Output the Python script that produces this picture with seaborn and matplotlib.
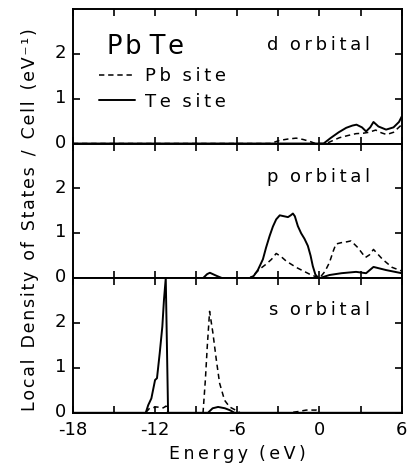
import matplotlib
matplotlib.use("Agg")
import matplotlib.pyplot as plt
import matplotlib.transforms as mtransforms
import seaborn as sns

# energies (eV) and local DOS
# d orbital
d_pb_e = [-18, -3.6, -2.9, -2.3, -1.7, -1.2, -0.73, -0.3, 0.5, 1.0, 1.46, 2.1, 2.67, 3.2, 3.6, 4.1, 4.5, 4.9, 5.4, 6.0]
d_pb_v = [0, 0, 0.07, 0.10, 0.12, 0.09, 0.05, 0, 0, 0.07, 0.13, 0.18, 0.22, 0.23, 0.25, 0.30, 0.24, 0.20, 0.25, 0.42]
d_te_e = [-18, 0.3, 0.8, 1.4, 1.95, 2.4, 2.7, 3.1, 3.4, 3.7, 3.94, 4.3, 4.86, 5.4, 5.8, 6.0]
d_te_v = [0, 0, 0.12, 0.25, 0.35, 0.40, 0.42, 0.36, 0.27, 0.36, 0.48, 0.38, 0.31, 0.36, 0.48, 0.60]

# p orbital
p_pb_e = [-18, -5.1, -4.7, -4.37, -3.9, -3.5, -3.16, -2.8, -2.43, -1.7, -0.73, 0, 0.4, 0.73, 1.0, 1.2, 1.58, 2.0, 2.3, 2.8,
          3.35, 3.65, 3.94, 4.6, 5.3, 6.0]
p_pb_v = [0, 0, 0.10, 0.20, 0.31, 0.42, 0.55, 0.48, 0.38, 0.24, 0.09, 0, 0.15, 0.35, 0.60, 0.76, 0.79, 0.81, 0.83, 0.68,
          0.46, 0.52, 0.64, 0.42, 0.24, 0.16]
p_te_e = [-18, -8.5, -8.2, -8.0, -7.5, -7.1, -5.1, -4.8, -4.5, -4.13, -3.9, -3.64, -3.4, -3.16, -2.9, -2.6, -2.3, -2.1,
          -1.94, -1.8, -1.58, -1.34, -1.1, -0.85, -0.65, -0.49, -0.3, -0.1, 0,
          0.73, 1.6, 2.67, 3.4, 3.94, 4.86, 6.0]
p_te_v = [0, 0, 0.09, 0.12, 0.05, 0, 0, 0.05, 0.18, 0.42, 0.68, 0.94, 1.15, 1.31, 1.40, 1.38, 1.36, 1.40,
          1.44, 1.38, 1.16, 1.00, 0.88, 0.72, 0.50, 0.27, 0.08, 0.01, 0,
          0.07, 0.11, 0.14, 0.11, 0.25, 0.18, 0.11]

# s orbital
s_pb_e = [-18, -12.7, -12.4, -11.9, -11.4, -11.2, -11.05, -8.5, -8.33, -8.19, -8.02, -7.78, -7.53, -7.29, -6.93, -6.56, -6.07, -5.8,
          -2.2, -1.5, -0.97, -0.24, 0, 6.0]
s_pb_v = [0, 0, 0.10, 0.13, 0.11, 0.15, 0, 0, 0.73, 1.48, 2.26, 1.78, 1.18, 0.66, 0.28, 0.13, 0.05, 0,
          0, 0.03, 0.06, 0.06, 0, 0]
s_te_e = [-18, -12.68, -12.5, -12.27, -12.0, -11.86, -11.66, -11.47, -11.35, -11.22, -11.05, -8.14, -7.8, -7.4, -6.9, -6.56, -6.2, 6.0]
s_te_v = [0, 0, 0.17, 0.32, 0.73, 0.77, 1.33, 1.92, 2.52, 3.0, 0, 0, 0.10, 0.13, 0.10, 0.06, 0, 0]

panels = [
    ("d orbital", 0.735, d_pb_e, d_pb_v, d_te_e, d_te_v),
    ("p orbital", 0.75, p_pb_e, p_pb_v, p_te_e, p_te_v),
    ("s orbital", 0.76, s_pb_e, s_pb_v, s_te_e, s_te_v),
]

THIN = "\u2009"
HAIR = "\u200a"


def spaced(s, gap=THIN, sep=" "):
    # letter-spaced words, like the hand lettering of the original
    return sep.join(gap.join(w) for w in s.split(" "))


sns.set_style("ticks")
plt.rcParams["font.family"] = ["DejaVu Sans"]
plt.rcParams["text.color"] = "black"
plt.rcParams["axes.labelcolor"] = "black"
plt.rcParams["xtick.color"] = "black"
plt.rcParams["ytick.color"] = "black"

fig, axes = plt.subplots(3, 1, figsize=(4.07, 4.68), dpi=100, sharex=True)
fig.subplots_adjust(left=0.179, right=0.987, top=0.981, bottom=0.118, hspace=0)

for ax, (name, ty, pb_e, pb_v, te_e, te_v) in zip(axes, panels):
    sns.lineplot(x=pb_e, y=pb_v, ax=ax, color="black", lw=1.1, linestyle=(0, (3.5, 2.5)),
                 label=spaced("Pb site", sep="  "))
    sns.lineplot(x=te_e, y=te_v, ax=ax, color="black", lw=1.4,
                 label=spaced("Te site", sep="  "))
    ax.set_xlim(-18, 6)
    ax.set_ylim(0, 3)
    ax.set_yticks([0, 1, 2])
    ax.set_xticks([-18, -15, -12, -9, -6, -3, 0, 3, 6])
    ax.set_xticklabels(["-18", "", "-12", "", "-6", "", "0", "", "6"])
    ax.tick_params(direction="in", top=True, right=True, length=5, width=1.2,
                   labelsize=13, pad=5)
    ax.tick_params(axis="x", pad=6)
    for sp in ax.spines.values():
        sp.set_linewidth(1.4)
        sp.set_color("black")
    ax.text(0.905, ty, spaced(name, sep="  "), transform=ax.transAxes,
            ha="right", va="center", fontsize=13)
    ax.set_ylabel("")
    if ax is not axes[0]:
        ax.get_legend().remove()

axes[0].text(0.105, 0.72, spaced("Pb Te", HAIR), transform=axes[0].transAxes,
             ha="left", va="center", fontsize=18.5)
axes[0].legend(loc="upper left", bbox_to_anchor=(0.04, 0.66), frameon=False, fontsize=13,
               handlelength=2.0, handletextpad=0.55, labelspacing=0.4, borderaxespad=0.3)

axes[2].set_xlabel(spaced("Energy (eV)", sep="  "), fontsize=12.5, labelpad=4)
fig.text(0.074, 0.53, spaced("Local Density of States / Cell (eV⁻¹)", HAIR, "  "), rotation=90,
         ha="center", va="center", fontsize=12.5)

fig.canvas.draw()

# lift the y tick labels a little, as in the original
lift = mtransforms.ScaledTranslation(0, 2 / 72, fig.dpi_scale_trans)
for ax in axes:
    for lab in ax.get_yticklabels():
        lab.set_transform(lab.get_transform() + lift)

fig.savefig("out.png", dpi=100)
